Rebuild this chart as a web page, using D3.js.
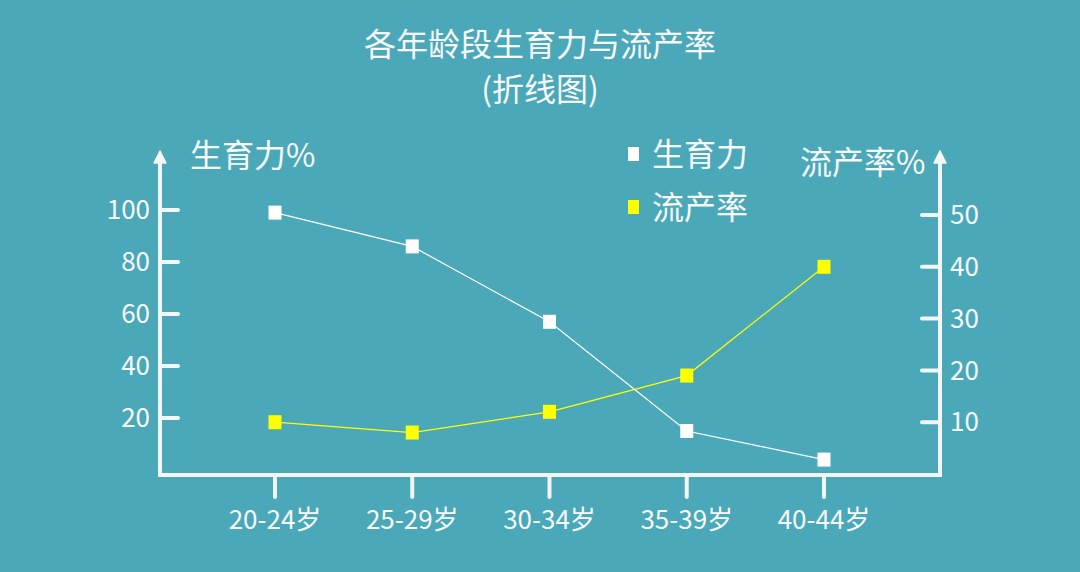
<!DOCTYPE html>
<html>
<head>
<meta charset="utf-8">
<script src="https://cdn.jsdelivr.net/npm/d3@7"></script>
<style>
  body { margin: 0; background: #4ba8b8; }
  svg { display: block; font-family: "Noto Sans CJK SC", "Noto Sans", sans-serif; }
</style>
</head>
<body>
<svg id="chart" width="1080" height="572"></svg>
<script>
// data
var ageGroups = ["20-24岁", "25-29岁", "30-34岁", "35-39岁", "40-44岁"];
var fertility = [99, 86, 57, 15, 4];       // 生育力 %
var miscarriage = [10, 8, 12, 19, 40];     // 流产率 %
var leftTicks = [20, 40, 60, 80, 100];
var rightTicks = [10, 20, 30, 40, 50];

var axisColor = "#f2f6f7";
var textColor = "#f7fafa";

var svg = d3.select("#chart");

var xScale = d3.scalePoint()
  .domain(ageGroups)
  .range([275, 824]);

var yLeft = d3.scaleLinear()
  .domain([0, 100])
  .range([470, 210]);

var yRight = d3.scaleLinear()
  .domain([0, 50])
  .range([474, 215]);

var baseY = 475;

//////////////////////////// TITLE ////////////////////////////
svg.append("text")
  .attr("x", 540).attr("y", 56)
  .attr("text-anchor", "middle")
  .attr("font-size", 32)
  .attr("fill", textColor)
  .text("各年龄段生育力与流产率");

svg.append("text")
  .attr("x", 540).attr("y", 101)
  .attr("text-anchor", "middle")
  .attr("font-size", 32)
  .attr("fill", textColor)
  .text("(折线图)");

//////////////////////////// AXES ////////////////////////////
var axes = svg.append("g")
  .attr("stroke", axisColor)
  .attr("stroke-width", 4)
  .attr("stroke-linecap", "round");

// frame: left, bottom, right
axes.append("path")
  .attr("fill", "none")
  .attr("d", "M160,158 L160," + baseY + " L940," + baseY + " L940,158");

// arrow heads
[160, 940].forEach(function(x) {
  svg.append("path")
    .attr("d", "M" + (x - 6) + ",163 L" + x + ",151 L" + (x + 6) + ",163 Z")
    .attr("fill", axisColor)
    .attr("stroke", axisColor)
    .attr("stroke-width", 1.5)
    .attr("stroke-linejoin", "round");
});

// left ticks
var lt = svg.append("g").selectAll("g")
  .data(leftTicks).enter().append("g")
  .attr("transform", function(d) { return "translate(160," + yLeft(d) + ")"; });
lt.append("line")
  .attr("x1", 0).attr("x2", 18)
  .attr("stroke", axisColor).attr("stroke-width", 4).attr("stroke-linecap", "round");
lt.append("text")
  .attr("x", -10).attr("dy", "0.35em")
  .attr("text-anchor", "end")
  .attr("font-size", 26)
  .attr("fill", textColor)
  .text(function(d) { return d; });

// right ticks
var rt = svg.append("g").selectAll("g")
  .data(rightTicks).enter().append("g")
  .attr("transform", function(d) { return "translate(940," + yRight(d) + ")"; });
rt.append("line")
  .attr("x1", 0).attr("x2", -18)
  .attr("stroke", axisColor).attr("stroke-width", 4).attr("stroke-linecap", "round");
rt.append("text")
  .attr("x", 10).attr("dy", "0.35em")
  .attr("font-size", 26)
  .attr("fill", textColor)
  .text(function(d) { return d; });

// bottom ticks
var bt = svg.append("g").selectAll("g")
  .data(ageGroups).enter().append("g")
  .attr("transform", function(d) { return "translate(" + xScale(d) + "," + baseY + ")"; });
bt.append("line")
  .attr("y1", 0).attr("y2", 22)
  .attr("stroke", axisColor).attr("stroke-width", 4).attr("stroke-linecap", "round");
bt.append("text")
  .attr("y", 54)
  .attr("text-anchor", "middle")
  .attr("font-size", 26)
  .attr("fill", textColor)
  .text(function(d) { return d; });

// axis titles
svg.append("text")
  .attr("x", 190).attr("y", 167)
  .attr("font-size", 32)
  .attr("fill", textColor)
  .text("生育力%");

svg.append("text")
  .attr("x", 800).attr("y", 174)
  .attr("font-size", 32)
  .attr("fill", textColor)
  .text("流产率%");

//////////////////////////// LEGEND ////////////////////////////
var legend = [
  { name: "生育力", color: "#ffffff" },
  { name: "流产率", color: "#ffff00" }
];
var lg = svg.append("g").selectAll("g")
  .data(legend).enter().append("g")
  .attr("transform", function(d, i) { return "translate(628," + (154 + i * 53) + ")"; });
lg.append("rect")
  .attr("x", 0).attr("y", -7)
  .attr("width", 11).attr("height", 14)
  .attr("fill", function(d) { return d.color; });
lg.append("text")
  .attr("x", 24).attr("dy", "0.36em")
  .attr("font-size", 32)
  .attr("fill", textColor)
  .text(function(d) { return d.name; });

//////////////////////////// LINES ////////////////////////////
function drawSeries(values, yScale, color) {
  var pts = values.map(function(v, i) { return { cat: ageGroups[i], v: v }; });
  var line = d3.line()
    .x(function(d) { return xScale(d.cat); })
    .y(function(d) { return yScale(d.v); });

  svg.append("path")
    .datum(pts)
    .attr("d", line)
    .attr("fill", "none")
    .attr("stroke", color)
    .attr("stroke-width", 1.2);

  svg.append("g").selectAll("rect")
    .data(pts).enter().append("rect")
    .attr("x", function(d) { return xScale(d.cat) - 6.5; })
    .attr("y", function(d) { return yScale(d.v) - 7; })
    .attr("width", 13).attr("height", 14)
    .attr("fill", color);
}

drawSeries(miscarriage, yRight, "#ffff00");
drawSeries(fertility, yLeft, "#ffffff");
</script>
</body>
</html>
